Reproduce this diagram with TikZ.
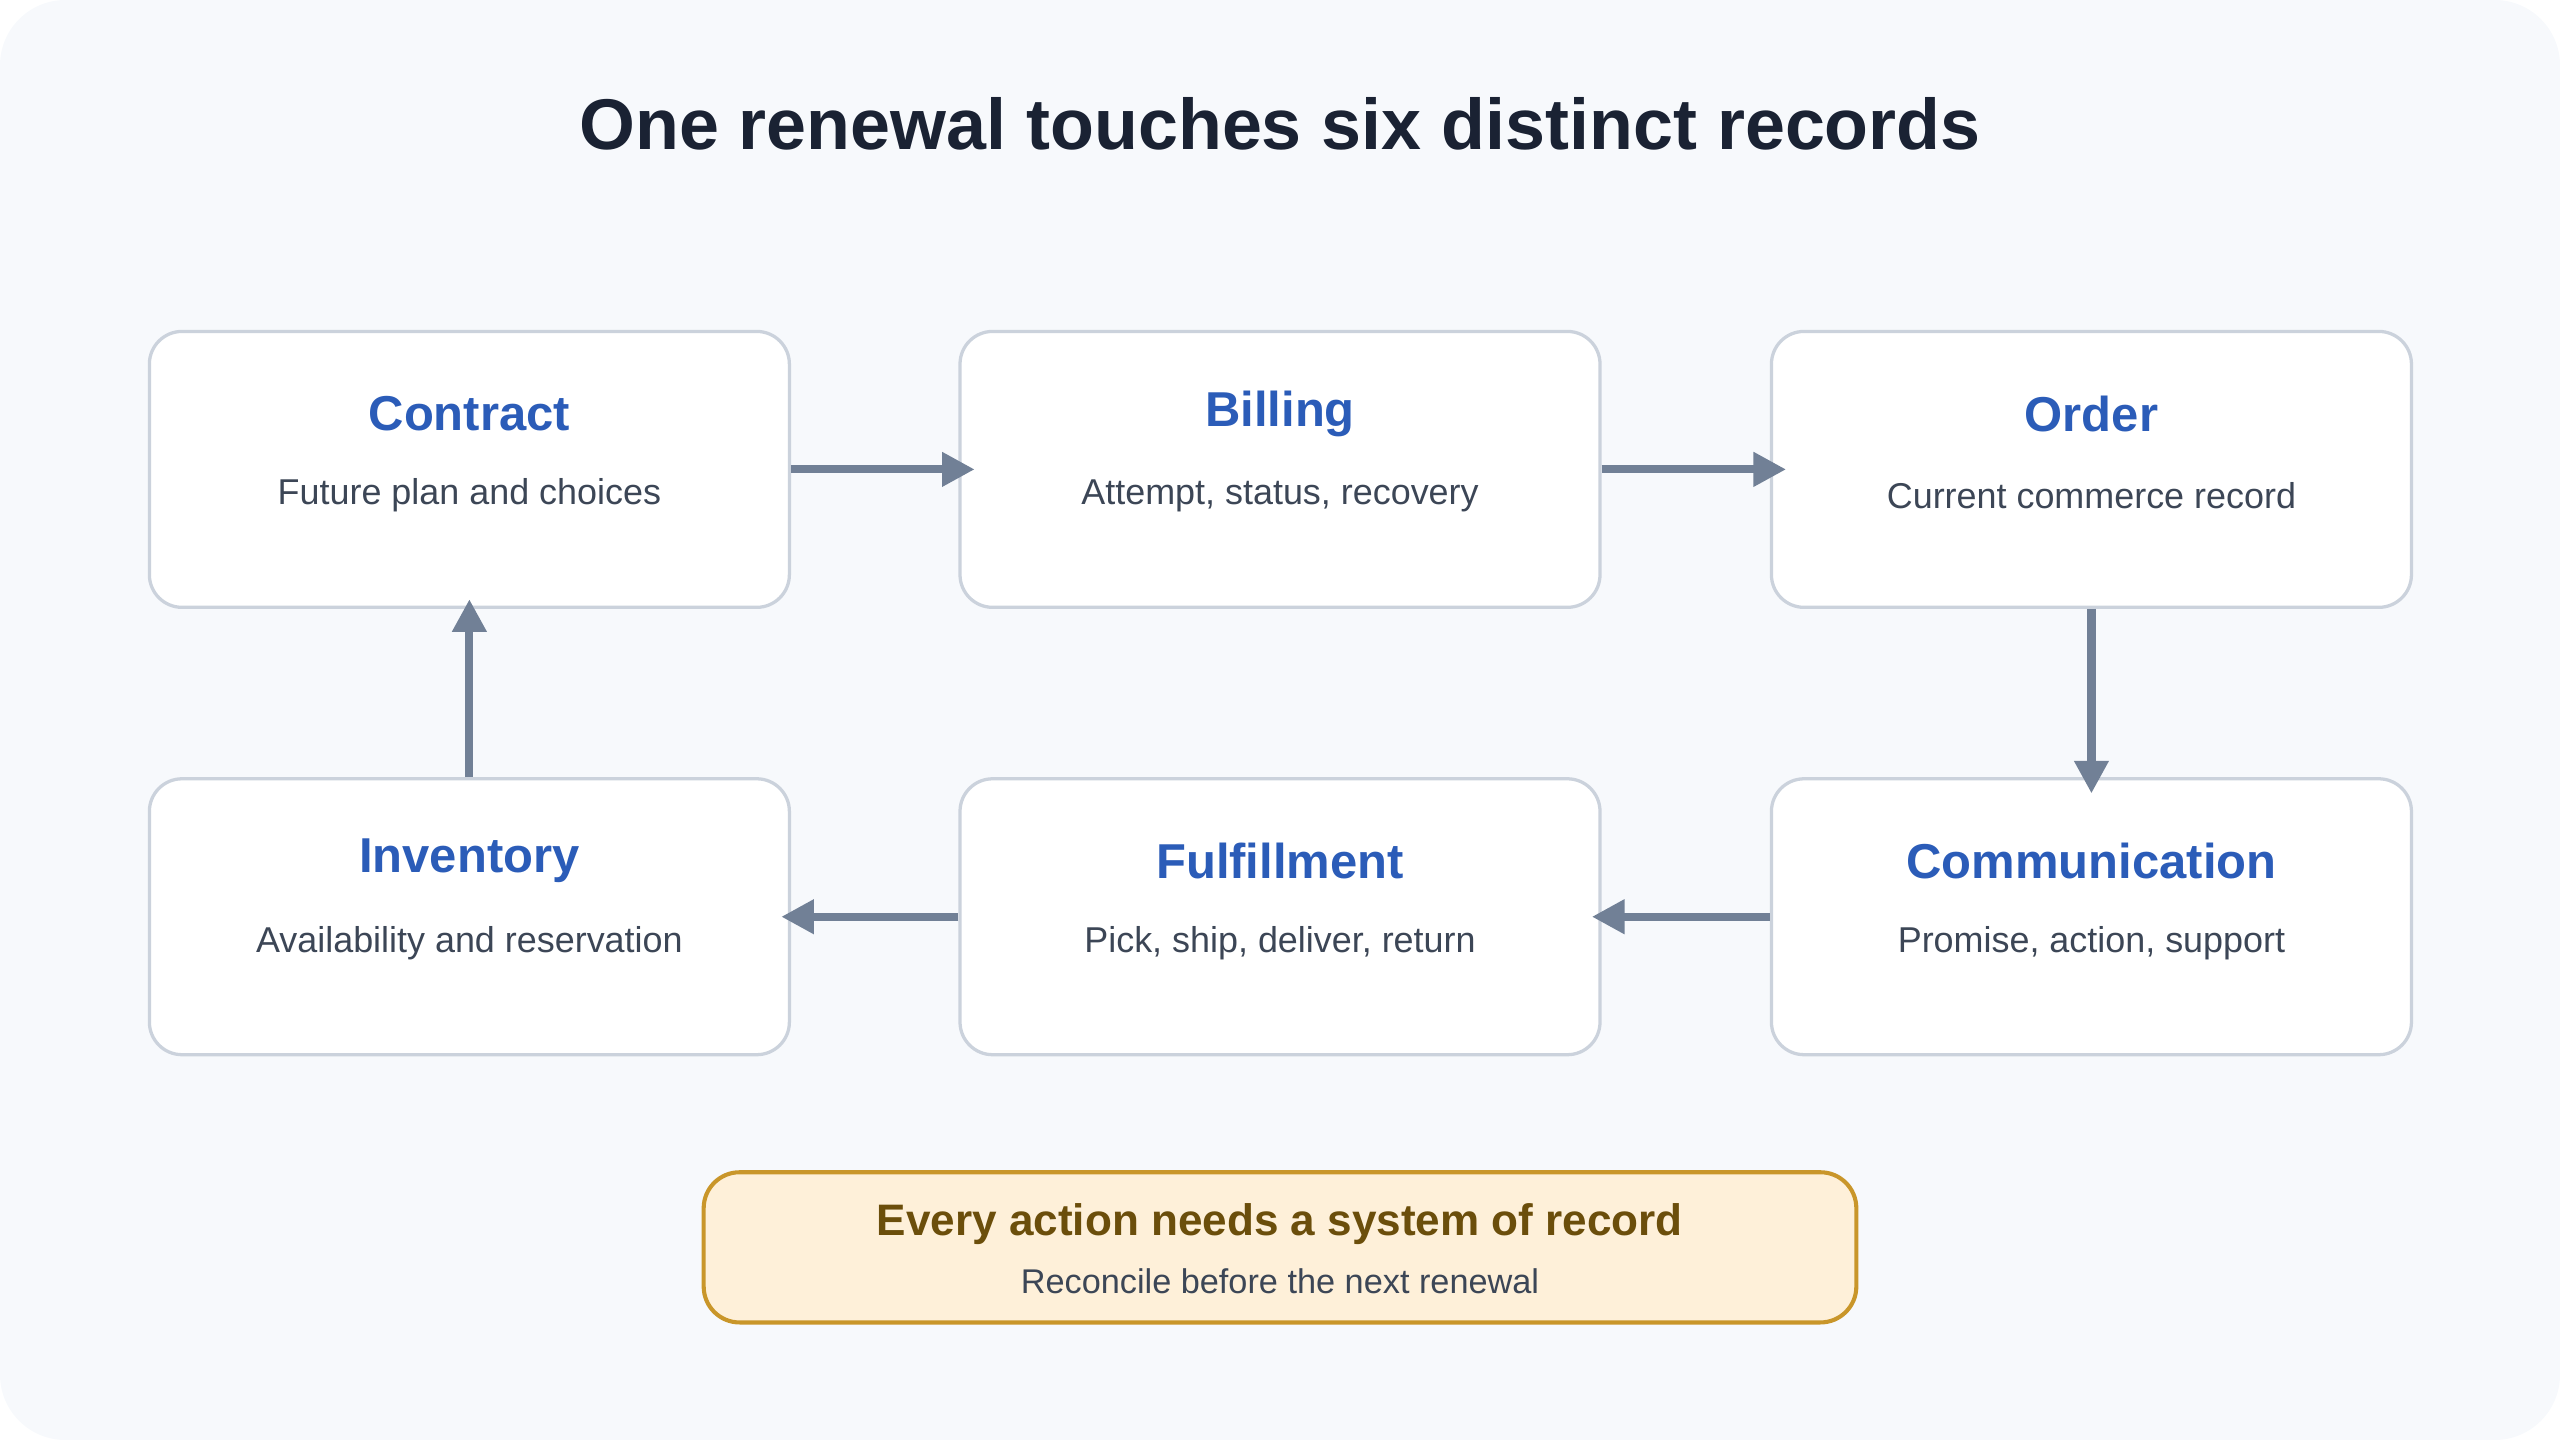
\documentclass[tikz,border=0pt]{standalone}
\usepackage{fontspec}
\setmainfont{Liberation Sans}
\usetikzlibrary{arrows.meta}
\definecolor{bg}{HTML}{F7F9FC}
\definecolor{bd}{HTML}{CBD2DC}
\definecolor{hd}{HTML}{2B5CB8}
\definecolor{tx}{HTML}{3C4656}
\definecolor{ar}{HTML}{718096}
\definecolor{nf}{HTML}{FEF0D9}
\definecolor{nb}{HTML}{C9962A}
\definecolor{nt}{HTML}{6B4E0B}
\definecolor{ti}{HTML}{1A2233}
\begin{document}
\begin{tikzpicture}[x=1pt,y=-1pt,
 box/.style={draw=bd,line width=2pt,fill=white,rounded corners=20pt,minimum width=392pt,minimum height=169pt},
 hd/.style={text=hd,font=\fontsize{30}{34}\selectfont\bfseries},
 bd/.style={text=tx,font=\fontsize{22}{26}\selectfont},
 ar/.style={draw=ar,line width=5pt,-{Triangle[length=20pt,width=20pt]}}]
\useasboundingbox (0,0) rectangle (1568,882);
\fill[bg,rounded corners=40pt] (0,0) rectangle (1568,882);
\node[text=ti,font=\fontsize{44}{48}\selectfont\bfseries] (title) at (784,76) {One renewal touches six distinct records};
\node[box] (c) at (287.5,287.5) {};
\node[box] (b) at (784,287.5) {};
\node[box] (o) at (1281,287.5) {};
\node[box] (i) at (287.5,561.5) {};
\node[box] (f) at (784,561.5) {};
\node[box] (m) at (1281,561.5) {};
\foreach \n/\h/\t in {c/Contract/Future plan and choices,b/Billing/{Attempt, status, recovery},o/Order/Current commerce record,i/Inventory/Availability and reservation,f/Fulfillment/{Pick, ship, deliver, return},m/Communication/{Promise, action, support}}{
 \node[hd] (\n h) at ([yshift=34pt]\n.center) {\h};
 \node[bd] (\n t) at ([yshift=-16pt]\n.center) {\t};
}
\draw[ar] (c.east) -- ([xshift=10pt]b.west);
\draw[ar] (b.east) -- ([xshift=10pt]o.west);
\draw[ar] (o.south) -- ([yshift=-10pt]m.north);
\draw[ar] (m.west) -- ([xshift=-6pt]f.east);
\draw[ar] (f.west) -- ([xshift=-6pt]i.east);
\draw[ar] (i.north) -- ([yshift=6pt]c.south);
\node[draw=nb,line width=2.5pt,fill=nf,rounded corners=22pt,minimum width=706pt,minimum height=92pt] (n) at (784,764) {};
\node[text=nt,font=\fontsize{27}{30}\selectfont\bfseries] (nh) at (784,750) {Every action needs a system of record};
\node[text=tx,font=\fontsize{21}{24}\selectfont] (ntx) at (784,785) {Reconcile before the next renewal};
\end{tikzpicture}
\end{document}
